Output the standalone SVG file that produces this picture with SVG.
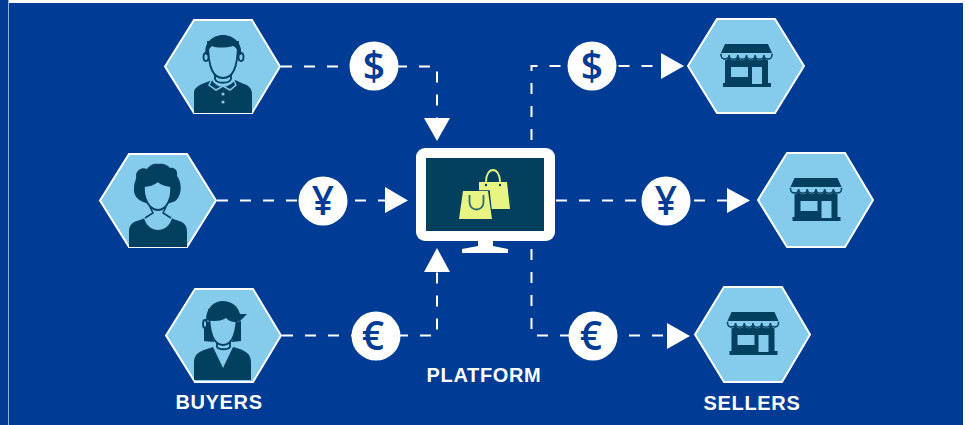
<svg xmlns="http://www.w3.org/2000/svg" width="969" height="425" viewBox="0 0 969 425">
<style>
.hex{fill:#84cbec;stroke:#fff;stroke-width:2}
.ink{fill:#033f5f}
.sky{fill:#84cbec}
.face{fill:#84cbec;stroke:#033f5f;stroke-width:1.800}
.skyline{fill:none;stroke:#84cbec;stroke-width:1.500}
.inkline{fill:none;stroke:#033f5f;stroke-width:1.500}
.line{fill:none;stroke:#fff;stroke-width:2;stroke-dasharray:11 12}
.arrow{fill:#fff}
.coin{fill:#fff}
.sym{font-family:"Open Sans","Liberation Sans",Arial,sans-serif;font-weight:600;font-size:39px;fill:#003c96;text-anchor:middle}
.label{font-family:"Liberation Sans",Arial,sans-serif;font-weight:700;font-size:20px;fill:#fff;text-anchor:middle;letter-spacing:.65px}
.bag{fill:#e9f582}
.hnd{fill:none;stroke:#e9f582;stroke-width:1.800}
</style>
<defs>
<g id="shop">
<path class="ink" d="M-21.500-22H21.500L25.500-13H-25.500Z"/>
<path class="ink" d="M-21.500-8H21.500V17H24.500V21H-23.500V17H-21.500Z"/>
<path class="sky" d="M-26-12.500H26V-10A4.300 4.300 0 0 1 17.400-10 4.300 4.300 0 0 1 8.700-10 4.300 4.300 0 0 1 0-10 4.300 4.300 0 0 1-8.700-10 4.300 4.300 0 0 1-17.400-10 4.300 4.300 0 0 1-26-10Z"/>
<path class="inkline" d="M-25.500-12.200V-11A4 4 0 0 0-17.400-11 4.300 4.300 0 0 0-8.700-11 4.300 4.300 0 0 0 0-11 4.300 4.300 0 0 0 8.700-11 4.300 4.300 0 0 0 17.400-11 4 4 0 0 0 25.500-11V-12.200"/>
<rect class="sky" x="-15.500" y="1" width="17" height="10"/>
<rect class="sky" x="5.500" y="1" width="10" height="17"/>
</g>
</defs>
<rect width="969" height="425" fill="#fff"/>
<rect width="963" height="425" fill="#003c96"/>
<rect x="8" y="0" width="955" height="3" fill="#fff"/>
<rect x="8" width="1" height="425" fill="#8fb0da"/>
<g id="connectors">
<path class="line" d="M281 66.500H437V118"/>
<path class="line" d="M217 200.500H386"/>
<path class="line" d="M282 335.500H437V272"/>
<path class="line" d="M531.500 140V66H660"/>
<path class="line" d="M556 200.500H727"/>
<path class="line" d="M531.500 249V335.500H667"/>
<path class="arrow" d="M424 118H450L437 141Z"/>
<path class="arrow" d="M385 187L408 200.500 385 213Z"/>
<path class="arrow" d="M424 272H450L437 248Z"/>
<path class="arrow" d="M661 53L684 66 661 79Z"/>
<path class="arrow" d="M727 188L750 200.500 727 213Z"/>
<path class="arrow" d="M667 323L690 336 667 349Z"/>
</g>
<g id="coin-usd-buyer"><circle class="coin" cx="374" cy="66" r="24.500"/><text class="sym" x="374" y="80">$</text></g>
<g id="coin-jpy-buyer"><circle class="coin" cx="323" cy="201" r="24.500"/><text class="sym" x="323" y="215">¥</text></g>
<g id="coin-eur-buyer"><circle class="coin" cx="376" cy="336" r="24.500"/><text class="sym" x="373" y="350">€</text></g>
<g id="coin-usd-seller"><circle class="coin" cx="592" cy="66" r="24.500"/><text class="sym" x="592" y="80">$</text></g>
<g id="coin-jpy-seller"><circle class="coin" cx="666" cy="201" r="24.500"/><text class="sym" x="666" y="215">¥</text></g>
<g id="coin-eur-seller"><circle class="coin" cx="593" cy="336" r="24.500"/><text class="sym" x="591" y="350">€</text></g>
<g id="buyer-1">
<path class="hex" d="M165 66.500L194 20H252L280 66.500 252 113H194Z"/>
<path class="ink" d="M194 113V93C194 88 198 86 202 84L212 80C214 84 219 87 223 87 227 87 232 84 235 80L244 84C250 86 252 90 252 94V113Z"/>
<path class="face" d="M215 74V79C217 84 229 84 231 79V74"/>
<ellipse class="face" cx="206" cy="57" rx="2.500" ry="4"/>
<ellipse class="face" cx="241" cy="57" rx="2.500" ry="4"/>
<path class="face" d="M208 42C208 70 214 78 223 78 232 78 238 70 238 42Z"/>
<path class="ink" d="M206 55C203 44 212 35 223 35 234 35 243 44 241 55L238 55C238 50 236 47 233 46 226 48 216 48 212 46 209 48 208 51 208 55Z"/>
<path class="skyline" d="M212 79L209 85 216 90 223 86 230 90 236 85 233 79"/>
<circle class="sky" cx="223" cy="94" r="1.600"/><circle class="sky" cx="223" cy="102" r="1.600"/>
</g>
<g id="buyer-2">
<path class="hex" d="M100 200.500L129 154H187L216 200.500 187 247H129Z"/>
<path class="ink" d="M146 203C138 201 133 195 134 188 134 182 137 179 136 175 137 169 143 167 147 169 150 164 156 163 158 164 163 163 168 165 170 168 175 167 178 171 177 176 181 181 182 190 179 196 177 201 172 203 169 203Z"/>
<path class="ink" d="M129 247V232C129 224 133 222 140 220L150 216H166L176 220C183 222 187 224 187 232V247Z"/>
<path class="sky" d="M144 218L152 212H164L172 218C168 234 148 234 144 218Z"/>
<path class="inkline" d="M150 207L153 213 145 218M166 207L163 213 171 218"/>
<path class="face" d="M144 186C149 186 154 184 158 181 161 184 167 186 171 186 172 198 167 210 158 210 149 210 143 198 144 186Z"/>
</g>
<g id="buyer-3">
<path class="hex" d="M166 335.500L195 289H253L281 335.500 253 382H195Z"/>
<path class="ink" d="M194 380V361C195 353 200 351 213 347L223 368 233 347C245 350 250 353 251 361V380Z"/>
<path class="face" d="M217 341V347C219 350 228 350 230 347V341"/>
<path class="ink" d="M204 322H210L214 342 204 341ZM241 321V341L232 342 237 322Z"/>
<ellipse class="face" cx="205" cy="324" rx="2" ry="4"/>
<path class="face" d="M209 310C209 336 215 345 223 345 231 345 237 336 237 310Z"/>
<path class="ink" d="M206 320C206 308 214 301 223 301 231 301 238 306 240 314L247 314 240 321C234 323 230 322 226 318 222 321 214 322 206 320Z"/>
</g>
<g id="platform">
<rect x="416" y="148" width="139" height="93" rx="9" fill="#fff"/>
<rect x="426" y="158" width="118" height="73" fill="#033f5f"/>
<path d="M478 241H493V246L508 249V253H462V249L478 246Z" fill="#fff"/>
<path class="hnd" d="M486 182C486 166 500 166 500 182"/>
<path class="bag" d="M479 182H507L510 209H479Z"/>
<path d="M479 191H489L492 219H459L463 191Z" fill="#033f5f" stroke="#033f5f" stroke-width="1.500"/>
<path class="bag" d="M463 191H488L492 219H459Z"/>
<circle class="ink" cx="486" cy="185" r="1.200"/><circle class="ink" cx="500" cy="185" r="1.200"/>
<path d="M469.500 195V202C469.500 212 483.500 212 483.500 202V195" fill="none" stroke="#2f6a6c" stroke-width="1.800"/>
</g>
<g id="seller-1"><path class="hex" d="M688 66L717 19H775L804 66 775 113H717Z"/><use href="#shop" transform="translate(746.500 66)"/></g>
<g id="seller-2"><path class="hex" d="M758 200L787 153H845L873 200 845 247H787Z"/><use href="#shop" transform="translate(816 200)"/></g>
<g id="seller-3"><path class="hex" d="M695 334.500L724 287H782L810 334.500 782 382H724Z"/><use href="#shop" transform="translate(753 334)"/></g>
<text class="label" x="219" y="409">BUYERS</text>
<text class="label" x="484" y="382">PLATFORM</text>
<text class="label" x="752" y="410">SELLERS</text>
</svg>
